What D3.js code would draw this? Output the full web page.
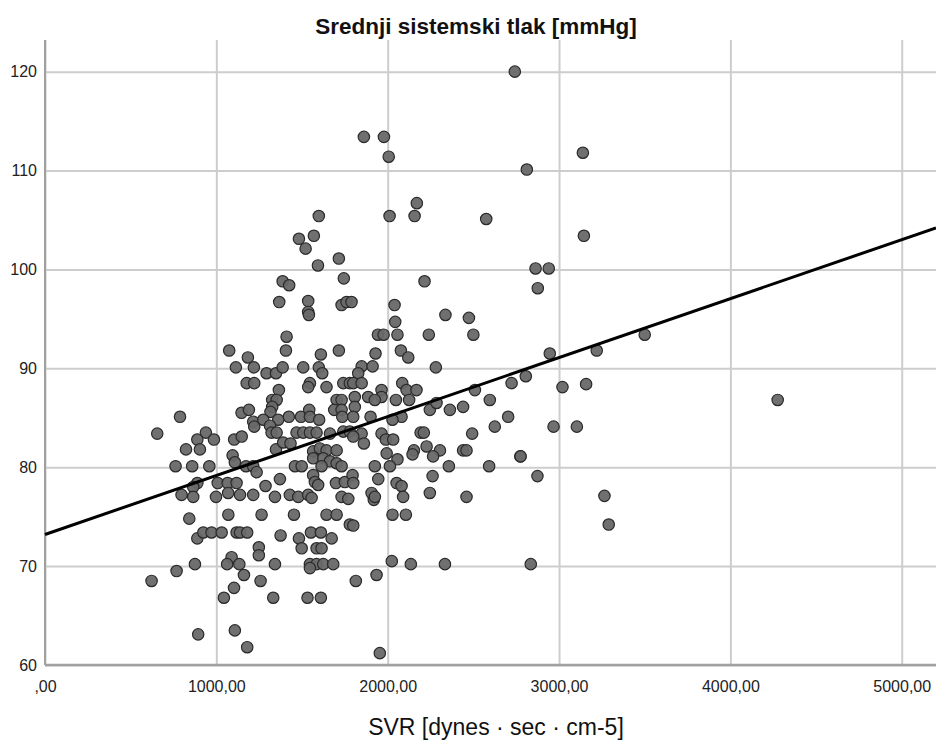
<!DOCTYPE html>
<html>
<head>
<meta charset="utf-8">
<script src="https://cdn.jsdelivr.net/npm/d3@7"></script>
<style>
  html, body { margin: 0; padding: 0; background: #fff; }
  text { font-family: "Liberation Sans", Arial, sans-serif; }
</style>
</head>
<body>
<svg id="chart" width="936" height="742"></svg>
<script>
const chartTitle = "Srednji sistemski tlak [mmHg]";
const xAxisTitle = "SVR [dynes · sec · cm-5]";

const xTicks = [0, 1000, 2000, 3000, 4000, 5000];
const xTickLabels = [",00", "1000,00", "2000,00", "3000,00", "4000,00", "5000,00"];
const yTicks = [60, 70, 80, 90, 100, 110, 120];
const yTickLabels = ["60", "70", "80", "90", "100", "110", "120"];

// SVR values (x)
const svr = [
  1598,1482,1569,1521,1593,1715,1387,1425,1744,1367,1536,1536,1540,1731,1760,1410,
  2170,2011,2157,2575,2863,2940,2876,2215,1789,2040,2044,2337,2474,1943,1976,2057,2240,2500,
  2742,1861,1978,2006,3139,2812,3145,3500,3220,3158,3020,4276,3104,3265,3290,2774,
  1075,1184,1406,1610,1715,1114,1219,1293,1348,1387,1507,1598,1618,1177,1221,1365,1546,1536,1643,1741,1779,
  1326,1352,1326,1702,1731,1688,1731,788,1147,1190,1316,1423,1494,1542,1546,1600,1735,1215,1221,1274,1361,1313,
  655,939,889,986,1104,1148,1322,1352,1468,1507,1546,1585,1663,1741,1779,823,904,1095,1108,1348,1390,1433,
  1565,1604,1643,1702,1565,1624,1663,1702,1731,762,859,959,1459,1498,1614,1173,1215,1235,1371,1565,1575,1594,1698,1750,
  889,865,1008,1066,1118,1287,797,865,998,1069,1138,1215,1342,1429,1478,1536,1556,1731,1770,
  842,1070,1264,1453,1643,1702,1779,889,924,972,1031,1118,1138,1180,1375,1482,1498,1552,1610,1673,1248,1248,1585,1614,
  875,768,622,1089,1063,1134,1161,1342,1546,1585,1624,1682,1546,1258,1103,1044,1332,1532,1610,894,1108,1180,
  1919,2028,2106,1799,2024,2135,2334,2835,1935,1814,1954,
  2946,1929,2077,2120,2281,1848,1912,1828,1799,1848,2085,2110,2168,2125,1964,1964,1886,1925,2048,1808,1808,1799,1900,
  2723,2806,2509,2596,2440,2363,2246,2285,2081,2028,2703,2625,2968,1848,1799,1861,1964,1989,2032,2192,2211,2493,
  2227,2153,2145,2305,2265,2440,2460,1994,2057,2776,1925,2013,2357,2592,2262,2874,1945,2052,2081,2246,2460,1906,1925,2090,1795,1799
];
// Mean systemic pressure values (y)
const msp = [
  105.4,103.1,103.4,102.1,100.4,101.1,98.8,98.4,99.1,96.7,96.8,95.7,95.4,96.4,96.7,93.2,
  106.7,105.4,105.4,105.1,100.1,100.1,98.1,98.8,96.7,96.4,94.7,95.4,95.1,93.4,93.4,93.4,93.4,93.4,
  120,113.4,113.4,111.4,111.8,110.1,103.4,93.4,91.8,88.4,88.1,86.8,84.1,77.1,74.2,81.1,
  91.8,91.1,91.8,91.4,91.8,90.1,90.1,89.5,89.5,90.1,90.1,90.1,89.5,88.5,88.5,87.8,88.5,88.1,88.1,88.5,88.5,
  86.8,86.8,86.1,86.8,86.8,85.8,85.8,85.1,85.5,85.8,85.6,85.1,85.1,85.8,85.1,84.8,85.1,84.6,84.1,84.8,84.8,84.2,
  83.4,83.5,82.8,82.8,82.8,83.1,83.5,83.5,83.5,83.5,83.5,83.5,83.4,83.6,83.6,81.8,81.8,81.2,80.5,81.8,82.5,82.4,
  81.6,81.9,81.7,81.7,80.9,80.9,80.6,80.4,80.1,80.1,80.1,80.1,80.1,80.1,80.1,80.1,80.1,79.5,78.8,79.2,78.5,78.2,78.4,78.5,
  78.4,78.0,78.4,78.4,78.4,78.1,77.2,77.0,77.0,77.4,77.2,77.2,77.0,77.2,77.0,77.2,76.9,77.0,76.8,
  74.8,75.2,75.2,75.2,75.2,75.2,74.2,72.8,73.4,73.4,73.4,73.4,73.4,73.4,73.1,72.8,71.8,73.4,73.4,72.8,71.9,71.1,71.8,71.8,
  70.2,69.5,68.5,70.9,70.2,70.2,69.1,70.2,70.2,70.2,70.2,70.2,69.8,68.5,67.8,66.8,66.8,66.8,66.8,63.1,63.5,61.8,
  76.7,75.2,75.2,74.1,70.5,70.2,70.2,70.2,69.1,68.5,61.2,
  91.5,91.5,91.8,91.1,90.1,90.2,90.2,89.5,88.5,88.5,88.5,87.8,87.8,86.8,87.8,87.1,87.1,86.8,86.8,87.1,86.1,85.1,85.1,
  88.5,89.2,87.8,86.8,86.1,85.8,85.8,86.5,85.1,84.8,85.1,84.1,84.1,83.4,83.1,82.4,83.4,82.8,82.8,83.5,83.5,83.4,
  82.1,81.7,81.3,81.7,81.1,81.7,81.7,81.4,80.8,81.1,80.1,80.1,80.1,80.1,79.1,79.1,78.8,78.4,78.1,77.4,77.0,77.4,77.0,77.0,79.2,78.4
];

// Fit line endpoints
const fitX = [0, 5200];
const fitY = [73.2, 104.2];

const W = 936, H = 742;
const m = { left: 45, right: 936, top: 40, bottom: 665 };

const svg = d3.select("#chart");

const x = d3.scaleLinear().domain([0, 5200]).range([m.left, m.right]);
const y = d3.scaleLinear().domain([60, 123.2]).range([m.bottom, m.top]);

// Vertical grid + x tick labels
const gx = svg.append("g")
  .attr("transform", `translate(0,${m.bottom})`)
  .call(d3.axisBottom(x).tickValues(xTicks)
    .tickFormat((d, i) => xTickLabels[i])
    .tickSize(-(m.bottom - m.top)).tickPadding(16));
gx.select(".domain").remove();
gx.selectAll(".tick line").attr("stroke", "#cdcdcd").attr("stroke-width", 2);
gx.selectAll(".tick text").attr("fill", "#222").attr("font-size", 16)
  .attr("dy", null).attr("y", 27);

// Horizontal grid + y tick labels
const gy = svg.append("g")
  .attr("transform", `translate(${m.left},0)`)
  .call(d3.axisLeft(y).tickValues(yTicks)
    .tickFormat((d, i) => yTickLabels[i])
    .tickSize(-(m.right - m.left)).tickPadding(8));
gy.select(".domain").remove();
gy.selectAll(".tick line").attr("stroke", "#cdcdcd").attr("stroke-width", 2);
gy.selectAll(".tick text").attr("fill", "#222").attr("font-size", 16);

// Axis lines
svg.append("line").attr("x1", x(0)).attr("x2", x(0))
  .attr("y1", m.top).attr("y2", m.bottom)
  .attr("stroke", "#a0a0a0").attr("stroke-width", 2);
svg.append("line").attr("x1", m.left).attr("x2", m.right)
  .attr("y1", y(60)).attr("y2", y(60))
  .attr("stroke", "#a0a0a0").attr("stroke-width", 2.5);

// Points
svg.append("g").selectAll("circle")
  .data(svr.map((v, i) => [v, msp[i]]))
  .join("circle")
  .attr("cx", d => x(d[0]))
  .attr("cy", d => y(d[1]))
  .attr("r", 5.7)
  .attr("fill", "#686868")
  .attr("fill-opacity", 0.95)
  .attr("stroke", "#2a2a2a")
  .attr("stroke-width", 1.2);

// Fit line
svg.append("line")
  .attr("x1", x(fitX[0])).attr("y1", y(fitY[0]))
  .attr("x2", x(fitX[1])).attr("y2", y(fitY[1]))
  .attr("stroke", "#000").attr("stroke-width", 3);

// Titles
svg.append("text").attr("x", 476).attr("y", 34)
  .attr("text-anchor", "middle").attr("font-size", 22.5).attr("font-weight", "bold")
  .attr("fill", "#111").text(chartTitle);
svg.append("text").attr("x", 496).attr("y", 735)
  .attr("text-anchor", "middle").attr("font-size", 23)
  .attr("fill", "#111").text(xAxisTitle);
</script>
</body>
</html>
